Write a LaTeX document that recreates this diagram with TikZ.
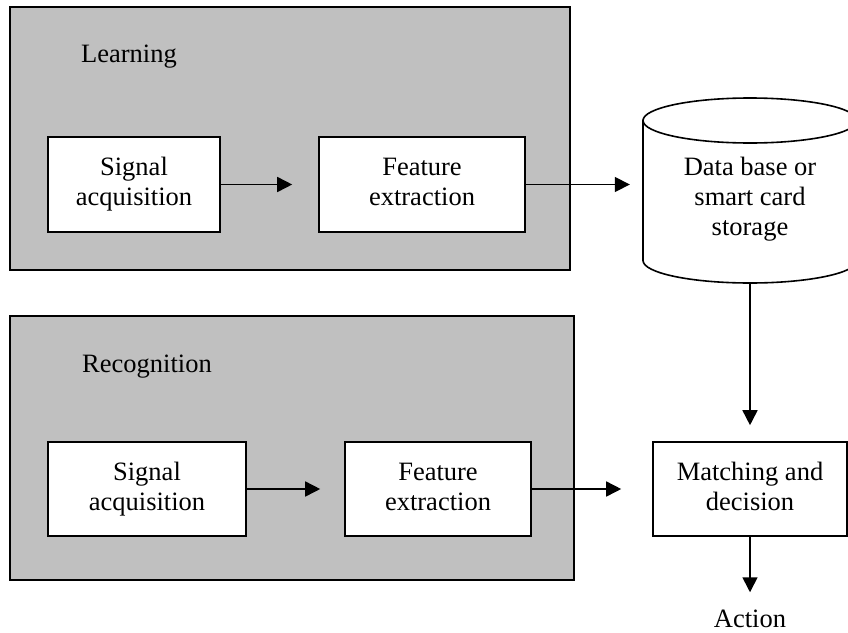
\documentclass[tikz,border=0pt]{standalone}
\usepackage{fontspec}
\setmainfont{Liberation Serif}
\usetikzlibrary{arrows.meta}
\definecolor{panelgray}{HTML}{C0C0C0}
\tikzset{
  panel/.style={draw=black, fill=panelgray, line width=1.8pt, inner sep=0pt},
  procbox/.style={draw=black, fill=white, line width=1.6pt, align=center, inner sep=0pt},
  paneltitle/.style={anchor=base west, inner sep=0pt},
  flow/.style={line width=1.6pt, -{Triangle[length=15pt,width=15pt]}},
  every node/.style={font=\fontsize{26.5}{30}\selectfont}
}
\begin{document}
\begin{tikzpicture}[x=1pt, y=-1pt]
\clip (0,0) rectangle (848,632);
\fill[white] (0,0) rectangle (848,632);

% Learning panel
\node[panel, minimum width=560pt, minimum height=263pt] (learn) at (290,138.5) {};
\node[paneltitle] (learntitle) at (81,62) {Learning};
\node[procbox, minimum width=172pt, minimum height=95pt] (sa1) at (134,184.5) {\strut Signal\\acquisition\strut};
\node[procbox, minimum width=206pt, minimum height=95pt] (fe1) at (422,184.5) {\strut Feature\\extraction\strut};

% Recognition panel
\node[panel, minimum width=564pt, minimum height=264pt] (recog) at (292,448) {};
\node[paneltitle] (recogtitle) at (82,372) {Recognition};
\node[procbox, minimum width=198pt, minimum height=94pt] (sa2) at (147,489) {\strut Signal\\acquisition\strut};
\node[procbox, minimum width=186pt, minimum height=94pt] (fe2) at (438,489) {\strut Feature\\extraction\strut};

% Database cylinder
\filldraw[fill=white, draw=black, line width=1.6pt]
  (643,120.5) -- (643,260.5)
  arc[start angle=180, end angle=360, x radius=107pt, y radius=22.5pt]
  -- (857,120.5) -- cycle;
\filldraw[fill=white, draw=black, line width=1.6pt]
  (750,120.5) ellipse [x radius=107pt, y radius=22.5pt];
\node[align=center, inner sep=0pt, minimum width=214pt, minimum height=169pt] (db) at (750,199) {\strut Data base or\\smart card\\storage\strut};

% Matching and decision
\node[procbox, minimum width=194pt, minimum height=94pt] (match) at (750,489) {\strut Matching and\\decision\strut};
\node[anchor=base, inner sep=0pt] (action) at (750,627) {Action};

% Connectors
\draw[flow, shorten >=26pt] (sa1.east) -- (fe1.west);
\draw[flow, shorten >=13pt] (fe1.east) -- (fe1.east -| db.west);
\draw[flow, shorten >=24pt] (sa2.east) -- (fe2.west);
\draw[flow, shorten >=31pt] (fe2.east) -- (match.west);
\draw[flow, shorten >=16pt] (db.south) -- (match.north);
\draw[flow, shorten >=17pt] (match.south) -- (action.north);
\end{tikzpicture}
\end{document}
